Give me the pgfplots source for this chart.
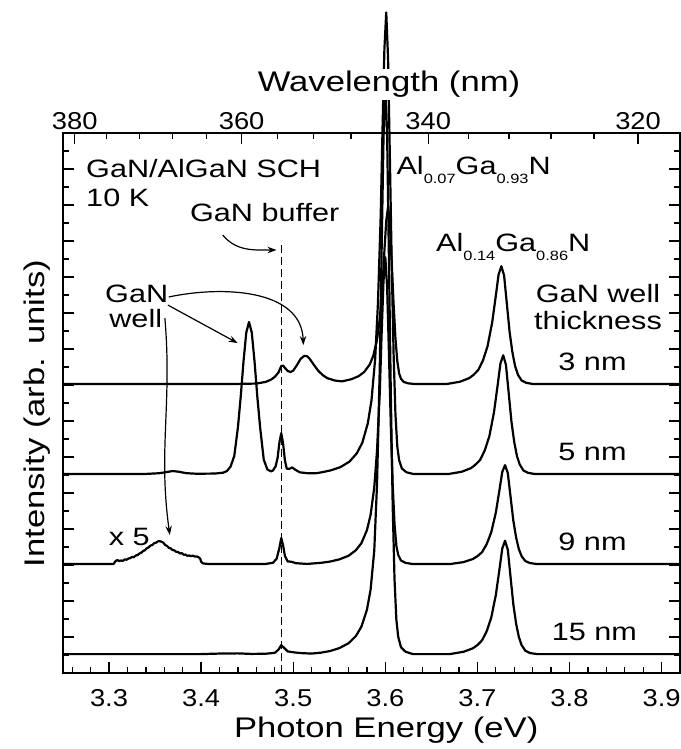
\documentclass[border=0pt]{standalone}
\usepackage{fontspec}
\setmainfont{Liberation Sans}[FakeStretch=1.22]
\newfontfamily\tickfam{Liberation Sans}[FakeStretch=1.12]
\usepackage{pgfplots}
\pgfplotsset{compat=1.18}
\usetikzlibrary{arrows.meta}

\newcommand\labfont{\fontsize{28.5}{32}\selectfont}
\newcommand\annfont{\fontsize{25.2}{29}\selectfont}
\newcommand\tickfont{\tickfam\fontsize{24.5}{29}\selectfont}
\newcommand\sub[1]{\raisebox{-9bp}{\fontsize{13.5}{14}\selectfont #1}}

\pgfplotsset{
  spec/.style={black, line width=2.2bp, line join=round, line cap=round, mark=none},
}
\tikzset{
  lbl/.style={font=\annfont, inner sep=0pt, anchor=base},
  arr/.style={line width=1.2bp, -{Stealth[length=9bp,width=6.5bp]}},
}

\begin{document}
\begin{tikzpicture}
\begin{axis}[
  name=main,
  scale only axis,
  width=617bp, height=540bp,
  xmin=3.25, xmax=3.92, ymin=0, ymax=30,
  clip=false,
  axis line style={line width=1.5bp},
  every tick/.style={black, line width=1.3bp},
  major tick length=11bp, minor tick length=6bp,
  tick align=inside,
  xtick pos=left,
  xtick={3.3,3.4,3.5,3.6,3.7,3.8,3.9},
  xticklabels={3.3,3.4,3.5,3.6,3.7,3.8,3.9},
  minor xtick={3.26,3.28,3.32,3.34,3.36,3.38,3.42,3.44,3.46,3.48,3.52,3.54,3.56,3.58,3.62,3.64,3.66,3.68,3.72,3.74,3.76,3.78,3.82,3.84,3.86,3.88,3.92},
  xticklabel style={font=\tickfont, inner sep=0pt, anchor=north, yshift=-16bp},
  ytick pos=both,
  ytick={0,2,...,30},
  minor ytick={1,3,...,29},
  yticklabels={},
]

% 15 nm
\addplot[spec] coordinates {
(3.250,1.05) (3.400,1.05) (3.420,1.08) (3.440,1.09) (3.455,1.06) (3.470,1.07)
(3.480,1.12) (3.484,1.30) (3.487,1.55) (3.490,1.40) (3.494,1.20) (3.500,1.15)
(3.510,1.10) (3.520,1.08) (3.530,1.13) (3.540,1.22) (3.550,1.38) (3.560,1.65)
(3.568,2.05) (3.574,2.57) (3.580,3.50) (3.584,4.62) (3.588,6.80) (3.591,10.50)
(3.594,17.00) (3.596,23.50) (3.598,29.60) (3.600,32.95) (3.602,29.76) (3.604,22.74)
(3.606,15.41) (3.608,9.34) (3.610,5.20) (3.612,2.96) (3.614,2.01) (3.617,1.43)
(3.622,1.18) (3.630,1.05) (3.670,1.05) (3.685,1.18) (3.695,1.37) (3.700,1.55)
(3.705,1.81) (3.710,2.31) (3.715,3.07) (3.720,4.33) (3.724,5.78) (3.727,6.91)
(3.730,7.35) (3.733,6.85) (3.736,5.33) (3.739,3.82) (3.742,2.75) (3.745,2.00)
(3.748,1.55) (3.752,1.24) (3.757,1.11) (3.765,1.05) (3.920,1.05)
};

% 9 nm (low-energy part shown x 5)
\addplot[spec] coordinates {
(3.250,6.05) (3.290,6.05) (3.305,6.06) (3.307,6.22) (3.309,6.27) (3.311,6.22)
(3.313,6.25) (3.315,6.23) (3.317,6.31) (3.319,6.29) (3.321,6.36) (3.323,6.38)
(3.325,6.45) (3.327,6.43) (3.329,6.53) (3.331,6.55) (3.333,6.64) (3.335,6.68)
(3.337,6.78) (3.339,6.82) (3.341,6.93) (3.343,6.98) (3.345,7.08) (3.347,7.11)
(3.349,7.21) (3.351,7.24) (3.353,7.31) (3.355,7.33) (3.357,7.29) (3.359,7.24)
(3.361,7.11) (3.363,7.06) (3.365,6.95) (3.367,6.92) (3.369,6.83) (3.371,6.81)
(3.373,6.73) (3.375,6.72) (3.377,6.64) (3.379,6.66) (3.381,6.57) (3.383,6.58)
(3.385,6.51) (3.387,6.53) (3.389,6.49) (3.391,6.52) (3.393,6.47) (3.395,6.48)
(3.397,6.44) (3.399,6.35) (3.400,6.18) (3.402,6.09) (3.405,6.07) (3.410,6.05)
(3.470,6.06) (3.478,6.12) (3.482,6.35)
(3.485,6.95) (3.487,7.50) (3.489,7.10) (3.491,6.50) (3.494,6.20) (3.498,6.18)
(3.503,6.10) (3.515,6.06) (3.530,6.12) (3.540,6.19) (3.550,6.31) (3.560,6.51)
(3.568,6.82) (3.574,7.21) (3.580,7.93) (3.584,8.78) (3.588,10.31) (3.591,12.36)
(3.594,15.60) (3.596,18.84) (3.598,21.74) (3.600,23.10) (3.602,21.40) (3.604,17.64)
(3.606,13.72) (3.608,10.48) (3.610,8.27) (3.612,7.07) (3.614,6.56) (3.617,6.25)
(3.622,6.12) (3.630,6.05) (3.670,6.05) (3.685,6.16) (3.695,6.33) (3.700,6.49)
(3.705,6.71) (3.710,7.15) (3.715,7.81) (3.720,8.91) (3.724,10.18) (3.727,11.17)
(3.730,11.55) (3.733,11.11) (3.736,9.79) (3.739,8.47) (3.742,7.54) (3.745,6.88)
(3.748,6.49) (3.752,6.22) (3.757,6.11) (3.765,6.05) (3.920,6.05)
};

% 5 nm
\addplot[spec] coordinates {
(3.250,11.05) (3.300,11.05) (3.340,11.06) (3.355,11.10) (3.362,11.16) (3.369,11.22)
(3.376,11.18) (3.384,11.10) (3.395,11.07) (3.415,11.08) (3.424,11.13) (3.428,11.22)
(3.432,11.47) (3.436,12.06) (3.440,13.67) (3.443,15.36) (3.446,17.30) (3.449,18.91)
(3.452,19.50) (3.455,18.91) (3.458,17.30) (3.461,15.36) (3.464,13.67) (3.468,11.85)
(3.472,11.30) (3.476,11.20) (3.478,11.25) (3.481,11.50) (3.483,11.95) (3.485,12.80)
(3.487,13.33) (3.489,12.75) (3.491,11.80) (3.493,11.35) (3.496,11.35) (3.499,11.42)
(3.502,11.30) (3.507,11.15) (3.515,11.10) (3.525,11.10) (3.531,11.15) (3.541,11.26)
(3.551,11.43) (3.561,11.74) (3.569,12.20) (3.575,12.79) (3.581,13.87) (3.585,15.15)
(3.589,17.46) (3.592,20.54) (3.595,25.41) (3.597,30.29) (3.599,34.65) (3.601,36.70)
(3.603,34.14) (3.605,28.49) (3.607,22.59) (3.609,17.72) (3.611,14.38) (3.613,12.59)
(3.615,11.82) (3.618,11.36) (3.623,11.15) (3.631,11.05) (3.668,11.05) (3.683,11.18)
(3.693,11.38) (3.698,11.58) (3.703,11.84) (3.708,12.37) (3.713,13.16) (3.718,14.48)
(3.722,16.00) (3.725,17.19) (3.728,17.65) (3.731,17.12) (3.734,15.54) (3.737,13.95)
(3.740,12.83) (3.743,12.04) (3.746,11.58) (3.750,11.25) (3.755,11.12) (3.763,11.05)
(3.920,11.05)
};

% 3 nm
\addplot[spec] coordinates {
(3.250,16.05) (3.400,16.05) (3.440,16.06) (3.460,16.08) (3.470,16.17) (3.476,16.30)
(3.480,16.45) (3.484,16.70) (3.487,17.05) (3.489,17.08) (3.491,16.95) (3.494,16.78)
(3.497,16.72) (3.500,16.80) (3.504,17.10) (3.508,17.45) (3.512,17.62) (3.515,17.60)
(3.518,17.45) (3.522,17.15) (3.527,16.80) (3.532,16.55) (3.537,16.38) (3.545,16.25)
(3.553,16.20) (3.563,16.32) (3.571,16.49) (3.577,16.72) (3.583,17.13) (3.587,17.63)
(3.591,18.51) (3.594,19.69) (3.597,21.57) (3.599,23.44) (3.601,25.11) (3.603,25.90)
(3.605,24.92) (3.607,22.75) (3.609,20.48) (3.611,18.61) (3.613,17.33) (3.615,16.64)
(3.617,16.35) (3.620,16.17) (3.625,16.09) (3.633,16.05) (3.666,16.05) (3.681,16.18)
(3.691,16.38) (3.696,16.57) (3.701,16.84) (3.706,17.36) (3.711,18.15) (3.716,19.46)
(3.720,20.96) (3.723,22.14) (3.726,22.60) (3.729,22.08) (3.732,20.50) (3.735,18.93)
(3.738,17.82) (3.741,17.03) (3.744,16.57) (3.748,16.25) (3.753,16.12) (3.761,16.05)
(3.920,16.05)
};

% GaN buffer position
\addplot[black, line width=1.4bp, dash pattern=on 8bp off 4bp] coordinates {(3.487,0) (3.487,23.8)};

% annotations
\node[lbl, anchor=base west] at (axis cs:3.275,27.55) {GaN/AlGaN SCH};
\node[lbl, anchor=base west] at (axis cs:3.275,25.9) {10 K};
\node[lbl] at (axis cs:3.469,25.06) {GaN buffer};
\node[lbl, anchor=base west] at (axis cs:3.612,27.67) {Al\sub{0.07}Ga\sub{0.93}N};
\node[lbl, anchor=base west] at (axis cs:3.655,23.39) {Al\sub{0.14}Ga\sub{0.86}N};
\node[lbl] at (axis cs:3.831,20.56) {GaN well};
\node[lbl] at (axis cs:3.831,19.06) {thickness};
\node[lbl] at (axis cs:3.825,16.83) {3 nm};
\node[lbl] at (axis cs:3.825,11.83) {5 nm};
\node[lbl] at (axis cs:3.825,6.83) {9 nm};
\node[lbl] at (axis cs:3.827,1.83) {15 nm};
\node[lbl] at (axis cs:3.330,20.56) {GaN};
\node[lbl] at (axis cs:3.329,19.17) {well};
\node[lbl] at (axis cs:3.322,7.11) {x 5};

\draw[arr] (axis cs:3.4234,24.33) to[out=-50,in=180] (axis cs:3.4818,23.5);
\draw[arr] (axis cs:3.3639,20.44) -- (axis cs:3.4396,18.33);
\draw[arr] (axis cs:3.3649,20.89) to[out=12,in=92] (axis cs:3.511,18.22);
\draw[arr] (axis cs:3.3606,19.72) to[out=-85,in=98] (axis cs:3.366,7.67);

% axis titles
\node[font=\labfont, inner sep=0pt, anchor=base] at (axis cs:3.601,-3.61) {Photon Energy (eV)};
\node[font=\labfont, inner sep=0pt, anchor=base, rotate=90] at (axis cs:3.2297,14.4) {Intensity (arb. units)};
\end{axis}

% wavelength scale on top
\begin{axis}[
  scale only axis,
  width=617bp, height=540bp,
  xmin=3.25, xmax=3.92, ymin=0, ymax=30,
  clip=false,
  axis x line*=top,
  axis y line=none,
  axis line style={line width=1.5bp},
  every tick/.style={black, line width=1.3bp},
  major tick length=11bp, minor tick length=6bp,
  tick align=inside,
  xtick={3.26274,3.44400,3.64659,3.87450},
  xticklabels={380,360,340,320},
  minor xtick={3.29745,3.33290,3.36913,3.40615,3.48270,3.52227,3.56276,3.60419,3.69000,3.73446,3.78000,3.82667},
  xticklabel style={font=\tickfont, inner sep=0pt, anchor=south, yshift=3bp},
]
\node[font=\labfont, inner sep=2pt, fill=white, anchor=base] at (axis cs:3.604,32.28) {Wavelength (nm)};
\end{axis}

\pgfresetboundingbox
\path (-63bp,-76bp) rectangle (618bp,673bp);
\end{tikzpicture}
\end{document}
